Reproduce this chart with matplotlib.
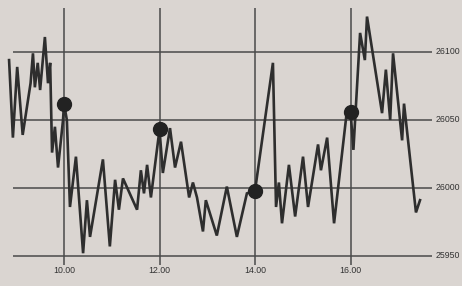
import numpy as np
import matplotlib.pyplot as plt

# intraday index level, time in decimal hours
times = [8.85, 8.93, 9.02, 9.135, 9.30, 9.35, 9.39, 9.45, 9.50, 9.60,
         9.665, 9.71, 9.75, 9.81, 9.875, 9.98, 10.0, 10.06, 10.125, 10.25,
         10.40, 10.48, 10.545, 10.815, 10.96, 11.07, 11.15, 11.235, 11.53, 11.61,
         11.675, 11.74, 11.82, 12.0, 12.07, 12.22, 12.325, 12.45, 12.62, 12.70,
         12.785, 12.91, 12.97, 13.20, 13.41, 13.62, 13.83, 14.0, 14.375, 14.44,
         14.50, 14.565, 14.71, 14.84, 15.005, 15.11, 15.32, 15.38, 15.51, 15.655,
         15.925, 16.0, 16.06, 16.20, 16.30, 16.345, 16.66, 16.74, 16.83, 16.89,
         17.08, 17.12, 17.37, 17.455]
prices = [26094, 26037, 26089, 26039, 26077, 26099, 26074, 26092, 26072, 26111,
          26077, 26092, 26026, 26045, 26015, 26050, 26062, 26050, 25986, 26023,
          25952, 25991, 25964, 26021, 25957, 26006, 25984, 26007, 25984, 26013,
          25996, 26017, 25993, 26043, 26011, 26044, 26015, 26034, 25993, 26004,
          25993, 25968, 25991, 25965, 26001, 25964, 25996, 25998, 26092, 25986,
          26004, 25974, 26017, 25979, 26023, 25986, 26032, 26013, 26037, 25974,
          26057, 26056, 26028, 26114, 26094, 26126, 26055, 26087, 26050, 26099,
          26035, 26062, 25982, 25991]

# marked levels at the even hours
dot_times = [10.0, 12.0, 14.0, 16.0]
dot_prices = [26062, 26043, 25998, 26056]

x_ticks = [10, 12, 14, 16]
x_labels = ['10.00', '12.00', '14.00', '16.00']
y_ticks = [25950, 26000, 26050, 26100]
y_labels = ['25950', '26000', '26050', '26100']

paper = '#dad5d1'
ink = '#333333'

fig = plt.figure(figsize=(4.62, 2.86), dpi=100, facecolor=paper)
ax = fig.add_axes([0, 0, 1, 1])
ax.set_facecolor(paper)
ax.set_xlim(8.660, 18.334)
ax.set_ylim(25927.9, 26138.2)
ax.axis('off')

# grid drawn as plain lines so it can stop short of the labels
ax.hlines(y_ticks, 8.932, 17.706, color='#4a4a4a', lw=1.1, zorder=1)
ax.vlines(x_ticks, 25943.4, 26132.4, color='#4a4a4a', lw=1.1, zorder=1)

ax.plot(times, prices, color='#2e2e2e', lw=1.9, solid_joinstyle='miter', zorder=2)
ax.plot(dot_times, dot_prices, 'o', color='#222222', ms=10, zorder=3)

for v, lab in zip(y_ticks, y_labels):
    ax.text(17.78, v, lab, ha='left', va='center', fontsize=6.3,
            family='Liberation Sans', color=ink)
for t, lab in zip(x_ticks, x_labels):
    ax.text(t, 25939.5, lab, ha='center', va='center', fontsize=6.3,
            family='Liberation Sans', color=ink)

fig.savefig('out.png', dpi=100, facecolor=paper)
